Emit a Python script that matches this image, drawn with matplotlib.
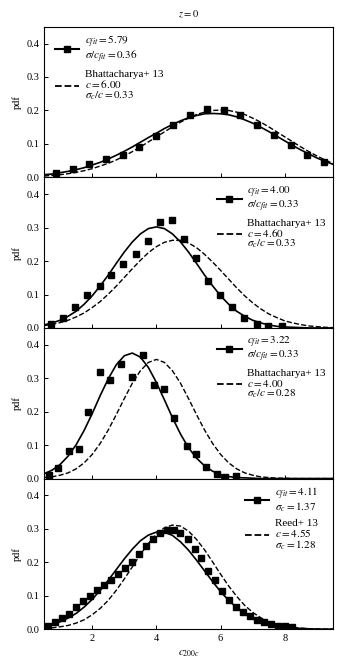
import matplotlib
matplotlib.use("Agg")
import matplotlib.pyplot as plt
from matplotlib.lines import Line2D

plt.rcParams['font.family'] = ['Liberation Serif', 'DejaVu Serif']
plt.rcParams['mathtext.fontset'] = 'stix'

# model curves (pdf), sampled every 0.25 from 0.5 to 9.5
curve_x = [0.5 + 0.25 * i for i in range(37)]
fit1 = [0.008, 0.010, 0.014, 0.018, 0.023, 0.029, 0.037, 0.045, 0.055, 0.066, 0.078, 0.091, 0.105, 0.119, 0.132, 0.146, 0.158, 0.169, 0.178, 0.185, 0.190, 0.191, 0.190, 0.187, 0.181, 0.172, 0.162, 0.150, 0.137, 0.123, 0.109, 0.095, 0.082, 0.070, 0.058, 0.048, 0.039]
ref1 = [0.004, 0.006, 0.008, 0.011, 0.015, 0.020, 0.026, 0.034, 0.042, 0.052, 0.064, 0.077, 0.091, 0.106, 0.121, 0.136, 0.151, 0.165, 0.177, 0.188, 0.195, 0.200, 0.201, 0.200, 0.195, 0.188, 0.177, 0.165, 0.151, 0.136, 0.121, 0.106, 0.091, 0.077, 0.064, 0.052, 0.042]
fit2 = [0.009, 0.015, 0.023, 0.035, 0.050, 0.071, 0.096, 0.126, 0.158, 0.193, 0.227, 0.257, 0.281, 0.297, 0.302, 0.297, 0.281, 0.257, 0.227, 0.193, 0.158, 0.126, 0.096, 0.071, 0.050, 0.035, 0.023, 0.015, 0.009, 0.005, 0.003, 0.002, 0.001, 0.000, 0.000, 0.000, 0.000]
ref2 = [0.007, 0.011, 0.016, 0.023, 0.033, 0.045, 0.061, 0.079, 0.101, 0.125, 0.151, 0.177, 0.202, 0.225, 0.243, 0.256, 0.262, 0.262, 0.254, 0.240, 0.220, 0.197, 0.172, 0.146, 0.120, 0.096, 0.075, 0.057, 0.042, 0.031, 0.021, 0.015, 0.010, 0.006, 0.004, 0.002, 0.001]
fit3 = [0.014, 0.025, 0.042, 0.067, 0.101, 0.144, 0.194, 0.248, 0.298, 0.340, 0.367, 0.375, 0.363, 0.332, 0.287, 0.235, 0.182, 0.133, 0.092, 0.061, 0.038, 0.022, 0.012, 0.006, 0.003, 0.002, 0.001, 0.000, 0.000, 0.000, 0.000, 0.000, 0.000, 0.000, 0.000, 0.000, 0.000]
ref3 = [0.003, 0.005, 0.010, 0.017, 0.029, 0.047, 0.072, 0.105, 0.145, 0.191, 0.239, 0.285, 0.322, 0.347, 0.356, 0.347, 0.322, 0.285, 0.239, 0.191, 0.145, 0.105, 0.072, 0.047, 0.029, 0.017, 0.010, 0.005, 0.003, 0.001, 0.001, 0.000, 0.000, 0.000, 0.000, 0.000, 0.000]
fit4 = [0.009, 0.014, 0.022, 0.033, 0.047, 0.066, 0.089, 0.116, 0.146, 0.178, 0.210, 0.239, 0.264, 0.281, 0.290, 0.290, 0.280, 0.261, 0.236, 0.206, 0.174, 0.142, 0.112, 0.086, 0.064, 0.045, 0.031, 0.021, 0.014, 0.009, 0.005, 0.003, 0.002, 0.001, 0.000, 0.000, 0.000]
ref4 = [0.002, 0.004, 0.007, 0.011, 0.018, 0.028, 0.043, 0.062, 0.086, 0.116, 0.150, 0.186, 0.223, 0.256, 0.284, 0.303, 0.311, 0.308, 0.293, 0.268, 0.237, 0.201, 0.164, 0.129, 0.098, 0.071, 0.050, 0.034, 0.022, 0.014, 0.008, 0.005, 0.003, 0.001, 0.001, 0.000, 0.000]

# measured histogram points
pts1_x = [0.87, 1.39, 1.91, 2.43, 2.95, 3.47, 3.99, 4.53, 5.05, 5.57, 6.09, 6.61, 7.13, 7.66, 8.18, 8.70, 9.22]
pts1_y = [0.014, 0.025, 0.040, 0.054, 0.068, 0.091, 0.125, 0.156, 0.186, 0.203, 0.202, 0.185, 0.158, 0.128, 0.096, 0.068, 0.046]
pts2_x = [0.71, 1.09, 1.48, 1.85, 2.23, 2.59, 2.97, 3.35, 3.74, 4.12, 4.49, 4.87, 5.23, 5.60, 5.99, 6.37, 6.74, 7.13, 7.49, 7.91]
pts2_y = [0.013, 0.029, 0.064, 0.099, 0.126, 0.157, 0.191, 0.221, 0.261, 0.316, 0.323, 0.265, 0.210, 0.141, 0.099, 0.064, 0.029, 0.013, 0.006, 0.005]
pts3_x = [0.66, 0.93, 1.29, 1.58, 1.88, 2.24, 2.56, 2.90, 3.25, 3.57, 3.91, 4.23, 4.55, 4.94, 5.23, 5.53, 5.88, 6.13, 6.47]
pts3_y = [0.010, 0.032, 0.081, 0.089, 0.200, 0.318, 0.295, 0.342, 0.302, 0.369, 0.279, 0.267, 0.181, 0.098, 0.072, 0.035, 0.015, 0.005, 0.008]
pts4_x = [0.63, 0.85, 1.07, 1.29, 1.50, 1.72, 1.94, 2.15, 2.37, 2.59, 2.80, 3.02, 3.24, 3.46, 3.67, 3.89,
          4.10, 4.32, 4.54, 4.75, 4.97, 5.19, 5.40, 5.62, 5.84, 6.05, 6.27, 6.49, 6.70, 6.92, 7.14, 7.35,
          7.57, 7.79, 8.00, 8.22]
pts4_y = [0.008, 0.020, 0.032, 0.044, 0.065, 0.083, 0.099, 0.116, 0.131, 0.146, 0.164, 0.182, 0.200, 0.225,
          0.248, 0.269, 0.288, 0.296, 0.296, 0.288, 0.270, 0.240, 0.213, 0.175, 0.146, 0.115, 0.086, 0.066,
          0.050, 0.038, 0.028, 0.020, 0.014, 0.010, 0.008, 0.006]

fit_labels = [r"$c_{fit}=5.79$" + "\n" + r"$\sigma/c_{fit}=0.36$",
              r"$c_{fit}=4.00$" + "\n" + r"$\sigma/c_{fit}=0.33$",
              r"$c_{fit}=3.22$" + "\n" + r"$\sigma/c_{fit}=0.33$",
              r"$c_{fit}=4.11$" + "\n" + r"$\sigma_c=1.37$"]
ref_labels = ["Bhattacharya+ 13\n" + r"$c=6.00$" + "\n" + r"$\sigma_c/c=0.33$",
              "Bhattacharya+ 13\n" + r"$c=4.60$" + "\n" + r"$\sigma_c/c=0.33$",
              "Bhattacharya+ 13\n" + r"$c=4.00$" + "\n" + r"$\sigma_c/c=0.28$",
              "Reed+ 13\n" + r"$c=4.55$" + "\n" + r"$\sigma_c=1.28$"]
legend_locs = ['upper left', 'upper right', 'upper right', 'upper right']
legend_anchor = [(0.012, 1.0), (1.0, 1.0), (1.0, 1.0), (0.972, 1.0)]
yticks = [0.0, 0.1, 0.2, 0.3, 0.4]
xticks = [2, 4, 6, 8]

fits = [fit1, fit2, fit3, fit4]
refs = [ref1, ref2, ref3, ref4]
pxs = [pts1_x, pts2_x, pts3_x, pts4_x]
pys = [pts1_y, pts2_y, pts3_y, pts4_y]

fig, axes = plt.subplots(4, 1, figsize=(3.44, 6.7), dpi=100, sharex=True)
fig.subplots_adjust(left=0.128, right=0.968, top=0.960, bottom=0.061, hspace=0)

for i, ax in enumerate(axes):
    ax.plot(curve_x, fits[i], color='k', lw=1.2)
    ax.plot(curve_x, refs[i], color='k', lw=1.0, ls='--')
    ax.plot(pxs[i], pys[i], 's', color='k', ms=3.9)
    ax.set_xlim(0.5, 9.5)
    ax.set_ylim(0, 0.45)
    ax.set_yticks(yticks)
    ax.set_xticks(xticks)
    ax.tick_params(direction='in', length=3, width=0.7, labelsize=7.5, top=False, right=False)
    ax.set_ylabel("pdf", fontsize=7.5, labelpad=3)
    h1 = Line2D([], [], color='k', lw=1.5, marker='s', ms=4)
    h2 = Line2D([], [], color='k', lw=1.3, ls='--')
    leg = ax.legend([h1, h2], [fit_labels[i], ref_labels[i]], loc=legend_locs[i],
                    bbox_to_anchor=legend_anchor[i], frameon=False,
                    fontsize=8, handlelength=2.2, handletextpad=0.5, numpoints=1,
                    labelspacing=0.45, borderaxespad=0.35, borderpad=0.3)
    for t in leg.get_texts():
        t.set_linespacing(0.9)
    for sp in ax.spines.values():
        sp.set_linewidth(0.8)

axes[0].set_title(r"$z=0$", fontsize=7.5, pad=7)
axes[-1].set_xlabel(r"$c_{200c}$", fontsize=8)

fig.savefig("out.png", dpi=100)
